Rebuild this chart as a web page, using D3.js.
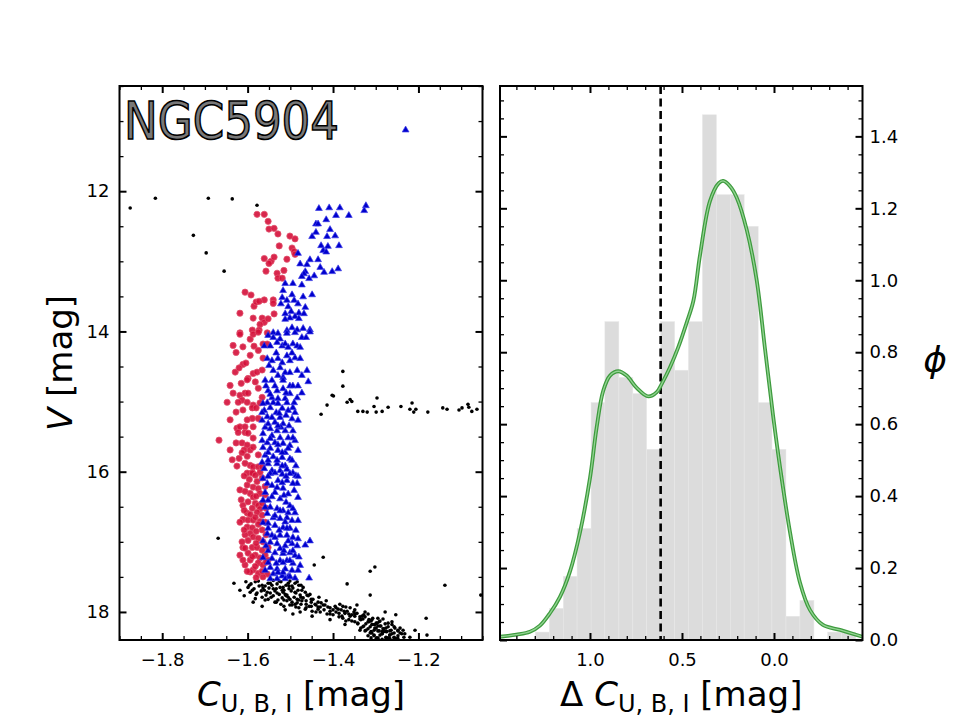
<!DOCTYPE html>
<html>
<head>
<meta charset="utf-8">
<script src="https://cdn.jsdelivr.net/npm/d3@7"></script>
<style>
  body { margin: 0; background: #fff; }
  svg { display: block; }
  .tick text { font-family: 'DejaVu Sans', sans-serif; font-size: 18px; fill: #000; }
  .tick line { stroke: #000; }
</style>
</head>
<body>
<script>
// ---- data ----
const clusterName = 'NGC5904';

// left panel: [C_UBI, V]
const redStars = [
  [-1.578,12.33],[-1.561,12.33],[-1.552,12.43],[-1.550,12.54],[-1.538,12.53],[-1.529,12.61],[-1.526,12.78],
  [-1.501,12.64],[-1.489,12.68],[-1.496,12.81],[-1.491,12.86],[-1.489,12.90],[-1.561,12.96],[-1.545,13.00],
  [-1.538,12.94],[-1.550,13.03],[-1.508,12.97],[-1.515,13.13],[-1.531,13.17],[-1.557,13.14],[-1.529,13.24],
  [-1.519,13.24],[-1.606,13.44],[-1.592,13.48],[-1.585,13.64],[-1.580,13.58],[-1.561,13.55],[-1.540,13.55],
  [-1.540,13.60],[-1.573,13.57],[-1.618,13.74],[-1.587,13.81],[-1.566,13.81],[-1.561,13.87],[-1.571,13.90],
  [-1.538,13.75],[-1.552,13.82],[-1.589,13.98],[-1.618,14.02],[-1.573,13.98],[-1.554,14.02],
  [-1.618,14.04],[-1.634,14.20],[-1.611,14.22],[-1.594,14.11],[-1.587,14.04],[-1.575,14.01],[-1.585,14.21],
  [-1.594,14.34],[-1.564,14.18],[-1.554,14.18],[-1.564,14.38],[-1.611,14.47],[-1.604,14.45],[-1.629,14.58],
  [-1.587,14.60],[-1.578,14.58],[-1.599,14.67],[-1.601,14.69],[-1.615,14.74],[-1.582,14.72],[-1.634,14.88],
  [-1.648,15.01],[-1.618,14.91],[-1.606,14.88],[-1.599,14.88],[-1.613,14.98],[-1.622,15.01],[-1.601,15.01],
  [-1.587,15.05],[-1.611,15.12],[-1.589,15.09],[-1.566,14.94],[-1.571,15.02],[-1.580,15.09],[-1.589,15.24],
  [-1.625,15.38],[-1.618,15.36],[-1.606,15.36],[-1.587,15.36],[-1.606,15.44],[-1.599,15.45],[-1.622,15.44],
  [-1.667,15.55],[-1.627,15.59],[-1.613,15.59],[-1.601,15.62],[-1.587,15.52],[-1.608,15.69],[-1.594,15.69],
  [-1.587,15.65],[-1.613,15.73],[-1.601,15.78],[-1.620,15.81],[-1.625,15.92],[-1.594,15.91],[-1.587,15.93],
  [-1.575,15.93],[-1.566,15.93],[-1.589,16.01],[-1.571,16.01],[-1.601,16.02],
  [-1.589,16.02],[-1.582,16.05],[-1.596,16.11],[-1.578,16.14],[-1.601,16.19],[-1.587,16.22],[-1.575,16.24],
  [-1.571,16.31],[-1.594,16.31],[-1.587,16.36],[-1.599,16.43],[-1.582,16.45],[-1.575,16.48],[-1.589,16.52],
  [-1.571,16.53],[-1.578,16.58],[-1.601,16.59],[-1.594,16.61],[-1.566,16.62],[-1.611,16.68],[-1.599,16.69],
  [-1.587,16.69],[-1.571,16.71],[-1.575,16.75],[-1.601,16.79],[-1.589,16.80],[-1.566,16.83],[-1.594,16.88],
  [-1.587,16.93],[-1.599,16.98],[-1.575,16.95],[-1.564,17.00],[-1.611,17.08],[-1.589,17.08],[-1.578,17.08],
  [-1.566,17.12],[-1.599,17.16],[-1.582,17.19],[-1.571,17.23],[-1.559,17.19],[-1.594,17.26],[-1.575,17.30],
  [-1.564,17.33],[-1.587,17.40],[-1.594,17.43],[-1.575,17.45],[-1.554,17.46],[-1.564,17.50],
  [-1.618,16.26],[-1.611,16.48],[-1.559,16.33],[-1.606,16.90],[-1.618,17.19],[-1.552,17.26],[-1.606,17.33],
  [-1.608,16.06],[-1.566,16.09],[-1.606,16.28],[-1.559,16.21],[-1.580,16.35],[-1.615,16.40],[-1.566,16.45],
  [-1.608,16.55],[-1.557,16.52],[-1.582,16.65],[-1.618,16.72],[-1.559,16.72],[-1.608,16.83],[-1.580,16.85],
  [-1.557,16.90],[-1.613,17.00],[-1.580,17.02],[-1.552,17.08],[-1.606,17.09],[-1.589,17.21],[-1.611,17.26],
  [-1.557,17.29],[-1.582,17.35],[-1.601,17.42],[-1.566,17.42],[-1.580,17.51],
  [-1.627,14.30],[-1.575,14.27],[-1.620,14.52],[-1.566,14.55],[-1.641,14.77],[-1.575,14.81],[-1.627,15.15],
  [-1.575,15.24],[-1.641,15.26],[-1.601,15.26],[-1.641,15.69],[-1.575,15.76],[-1.636,15.83],[-1.606,15.88]
];

const blueStars = [
  [-1.230,11.12],[-1.323,12.20],[-1.327,12.27],
  [-1.433,12.24],[-1.409,12.23],[-1.384,12.23],[-1.363,12.34],[-1.393,12.34],[-1.416,12.40],[-1.440,12.46],
  [-1.435,12.46],[-1.407,12.54],[-1.440,12.58],[-1.449,12.64],[-1.395,12.63],[-1.414,12.64],[-1.428,12.77],
  [-1.423,12.84],[-1.412,12.78],[-1.386,12.77],[-1.416,12.86],[-1.482,12.88],[-1.435,12.97],[-1.454,12.97],
  [-1.461,13.04],[-1.477,13.03],[-1.430,13.08],[-1.421,13.15],[-1.402,13.14],[-1.388,13.10],[-1.465,13.14],
  [-1.468,13.17],[-1.444,13.20],[-1.473,13.21],[-1.456,13.24],[-1.512,13.31],[-1.494,13.31],[-1.473,13.33],
  [-1.517,13.41],[-1.496,13.47],[-1.470,13.50],[-1.449,13.47],[-1.519,13.51],[-1.508,13.55],[-1.491,13.55],
  [-1.482,13.60],[-1.522,13.60],[-1.505,13.64],[-1.465,13.65],[-1.498,13.71],[-1.480,13.73],[-1.512,13.74],
  [-1.489,13.78],[-1.468,13.74],[-1.501,13.80],[-1.480,13.81],[-1.512,13.82],[-1.496,13.94],[-1.484,13.97],
  [-1.470,13.95],[-1.454,13.97],[-1.508,13.98],[-1.540,14.01],[-1.529,14.02],
  [-1.552,14.05],[-1.540,14.08],[-1.524,14.10],[-1.508,14.02],[-1.489,14.01],[-1.473,14.08],[-1.463,14.08],
  [-1.454,14.00],[-1.547,14.20],[-1.531,14.15],[-1.519,14.20],[-1.512,14.17],[-1.505,14.22],[-1.494,14.17],
  [-1.484,14.20],[-1.477,14.22],[-1.554,14.38],[-1.543,14.41],[-1.529,14.38],[-1.519,14.44],[-1.508,14.34],
  [-1.501,14.41],[-1.489,14.37],[-1.477,14.38],[-1.540,14.55],[-1.524,14.51],[-1.512,14.58],[-1.517,14.65],
  [-1.484,14.55],[-1.461,14.55],[-1.559,14.69],[-1.543,14.69],[-1.517,14.69],[-1.501,14.77],[-1.494,14.77],
  [-1.482,14.77],[-1.458,14.71],[-1.552,14.84],[-1.531,14.84],[-1.517,14.81],[-1.501,14.88],[-1.484,14.94],
  [-1.543,14.94],[-1.529,14.95],[-1.512,14.95],[-1.554,15.01],[-1.540,15.01],[-1.529,15.02],[-1.508,15.01],
  [-1.564,15.02],[-1.519,15.09],[-1.547,15.08],[-1.505,15.12],[-1.533,15.15],[-1.554,15.21],[-1.543,15.22],
  [-1.524,15.22],[-1.510,15.19],[-1.496,15.24],[-1.566,15.26],[-1.536,15.29],[-1.517,15.31],[-1.503,15.34],
  [-1.559,15.36],[-1.547,15.38],[-1.531,15.41],[-1.512,15.41],[-1.564,15.45],[-1.543,15.48],[-1.524,15.51],
  [-1.505,15.51],[-1.554,15.58],[-1.536,15.58],[-1.517,15.59],[-1.501,15.62],[-1.564,15.65],[-1.547,15.66],
  [-1.529,15.69],[-1.512,15.72],[-1.559,15.76],[-1.540,15.78],[-1.519,15.79],[-1.501,15.81],[-1.566,15.86],
  [-1.552,15.88],[-1.531,15.88],[-1.512,15.91],[-1.496,15.83],[-1.543,15.98],[-1.524,15.98],[-1.508,15.96],
  [-1.494,16.01],
  [-1.564,16.09],[-1.547,16.02],[-1.536,16.01],[-1.519,16.03],[-1.501,16.02],[-1.487,16.05],[-1.484,16.16],
  [-1.494,16.16],[-1.554,16.16],[-1.543,16.19],[-1.529,16.12],[-1.508,16.12],[-1.517,16.23],[-1.559,16.29],
  [-1.536,16.29],[-1.505,16.31],[-1.552,16.40],[-1.524,16.38],[-1.510,16.43],[-1.547,16.50],[-1.531,16.52],
  [-1.517,16.55],[-1.505,16.58],[-1.554,16.59],[-1.540,16.65],[-1.524,16.66],[-1.508,16.65],[-1.496,16.69],
  [-1.552,16.73],[-1.536,16.76],[-1.517,16.79],[-1.501,16.80],[-1.554,16.88],[-1.543,16.90],[-1.524,16.90],
  [-1.508,16.90],[-1.494,16.93],[-1.547,17.00],[-1.531,17.02],[-1.512,17.05],[-1.496,17.02],[-1.484,17.05],
  [-1.465,17.04],[-1.454,16.98],[-1.552,17.12],[-1.536,17.15],[-1.517,17.16],[-1.501,17.15],[-1.489,17.19],
  [-1.543,17.23],[-1.524,17.26],[-1.508,17.26],[-1.494,17.30],[-1.547,17.36],[-1.531,17.38],[-1.512,17.38],
  [-1.496,17.40],[-1.482,17.40],[-1.540,17.45],[-1.519,17.48],[-1.505,17.49],[-1.489,17.51],[-1.456,17.51],
  [-1.531,17.52],[-1.512,17.52],
  [-1.557,14.77],[-1.536,14.77],[-1.510,14.87],[-1.491,15.01],[-1.561,15.12],[-1.526,15.16],[-1.489,15.15],
  [-1.552,15.31],[-1.522,15.36],[-1.494,15.41],[-1.566,15.55],[-1.529,15.61],[-1.489,15.55],[-1.552,15.72],
  [-1.505,15.66],[-1.531,15.83],[-1.487,15.91],[-1.561,15.95],[-1.510,16.06],[-1.531,16.22],[-1.491,16.26],
  [-1.564,16.40],[-1.501,16.48],[-1.536,16.62],[-1.489,16.58],[-1.564,16.72],[-1.512,16.71],[-1.526,16.83],
  [-1.487,16.83],[-1.564,16.98],[-1.505,16.98],[-1.524,17.09],[-1.564,17.22],[-1.494,17.12],[-1.533,17.30],
  [-1.559,17.40],[-1.501,17.26],[-1.517,17.43],[-1.477,17.33],[-1.547,17.52],
  [-1.561,14.20],[-1.496,14.30],[-1.533,14.30],[-1.550,14.48],[-1.501,14.58],[-1.473,14.62],[-1.529,14.62],
  [-1.547,14.89],[-1.473,14.87],[-1.494,15.08],[-1.566,15.15],[-1.482,15.26],[-1.529,15.34],[-1.494,15.51],
  [-1.547,15.52],[-1.482,15.69],[-1.519,15.72],[-1.552,15.83],[-1.519,15.91],[-1.482,16.06],[-1.552,16.06],
  [-1.519,16.15],[-1.543,16.35],[-1.482,16.36],[-1.515,16.33],[-1.559,16.50],[-1.494,16.52],[-1.524,16.55],
  [-1.552,16.80],[-1.482,16.69],[-1.508,16.80],[-1.536,16.93],[-1.482,16.95],[-1.557,17.05],[-1.515,17.12],
  [-1.480,17.21],[-1.552,17.29],[-1.517,17.29],[-1.529,17.43],[-1.501,17.49]
];

const otherStars = [
  // field / AGB
  [-1.875,12.24],[-1.816,12.10],[-1.692,12.10],[-1.636,12.11],[-1.578,12.20],[-1.727,12.63],[-1.697,12.88],
  [-1.655,13.14],[-1.669,16.95],[-1.632,17.59],[-1.423,17.22],[-1.444,17.33],[-1.367,17.60],[-1.313,17.42],
  [-1.302,17.36],[-1.313,17.76],[-1.138,17.62],[-1.054,17.76],[-1.182,18.09],[-1.180,18.33],[-1.236,18.26],
  [-1.344,17.90],[-1.433,17.79],[-1.494,18.03],[-1.582,17.81],
  // horizontal branch
  [-1.377,14.57],[-1.377,14.78],[-1.402,14.91],[-1.399,14.92],[-1.414,15.05],[-1.428,15.18],[-1.367,15.01],
  [-1.360,14.97],[-1.356,15.00],[-1.342,15.14],[-1.330,15.14],[-1.320,15.15],[-1.297,14.95],[-1.304,15.07],
  [-1.299,15.15],[-1.285,15.14],[-1.271,15.08],[-1.241,15.07],[-1.215,15.02],[-1.220,15.11],[-1.206,15.11],
  [-1.211,15.15],[-1.178,15.15],[-1.143,15.09],[-1.133,15.11],[-1.105,15.12],[-1.098,15.09],[-1.084,15.04],
  [-1.082,15.08],[-1.075,15.14],[-1.063,15.11],
  // sub-giant branch and main sequence
  [-1.604,17.57],[-1.592,17.60],[-1.575,17.56],[-1.566,17.62],[-1.552,17.59],[-1.540,17.55],[-1.531,17.60],
  [-1.522,17.57],[-1.510,17.62],[-1.501,17.56],[-1.489,17.59],[-1.480,17.62],
  [-1.599,17.65],[-1.585,17.67],[-1.573,17.63],[-1.561,17.69],[-1.550,17.66],[-1.543,17.62],[-1.533,17.67],
  [-1.524,17.65],[-1.515,17.69],[-1.503,17.63],[-1.494,17.66],[-1.482,17.69],[-1.470,17.65],
  [-1.594,17.72],[-1.580,17.75],[-1.568,17.70],[-1.557,17.76],[-1.547,17.73],[-1.536,17.70],[-1.526,17.75],
  [-1.517,17.72],[-1.508,17.76],[-1.498,17.70],[-1.487,17.73],[-1.477,17.76],[-1.465,17.72],[-1.454,17.75],
  [-1.566,17.79],[-1.552,17.82],[-1.540,17.77],[-1.529,17.83],[-1.519,17.80],[-1.510,17.77],[-1.501,17.82],
  [-1.491,17.79],[-1.480,17.83],[-1.470,17.80],[-1.458,17.77],[-1.447,17.82],
  [-1.536,17.86],[-1.522,17.89],[-1.508,17.84],[-1.496,17.90],[-1.484,17.87],[-1.473,17.84],[-1.463,17.89],
  [-1.451,17.86],[-1.440,17.90],[-1.428,17.87],[-1.416,17.84],
  [-1.501,17.90],[-1.487,17.93],[-1.475,17.89],[-1.463,17.94],[-1.451,17.92],[-1.442,17.89],[-1.430,17.93],
  [-1.419,17.90],[-1.407,17.94],[-1.395,17.92],
  [-1.465,17.96],[-1.449,17.99],[-1.435,17.93],[-1.421,17.97],[-1.407,17.99],[-1.393,17.94],[-1.381,17.97],
  [-1.370,17.93],
  [-1.430,18.00],[-1.414,18.03],[-1.400,17.97],[-1.386,18.02],[-1.374,17.99],[-1.363,18.03],[-1.351,18.00],
  [-1.400,18.04],[-1.386,18.07],[-1.372,18.02],[-1.360,18.06],[-1.349,18.03],[-1.337,18.07],[-1.328,18.04],
  [-1.377,18.09],[-1.363,18.11],[-1.349,18.06],[-1.337,18.10],[-1.325,18.07],[-1.316,18.11],[-1.307,18.09],
  [-1.356,18.13],[-1.342,18.16],[-1.330,18.10],[-1.318,18.14],[-1.309,18.11],[-1.299,18.16],[-1.290,18.13],
  [-1.342,18.17],[-1.328,18.20],[-1.316,18.14],[-1.307,18.18],[-1.297,18.16],[-1.288,18.20],[-1.278,18.17],
  [-1.330,18.21],[-1.318,18.24],[-1.309,18.18],[-1.299,18.23],[-1.290,18.20],[-1.281,18.24],[-1.271,18.21],
  [-1.262,18.18],
  [-1.323,18.26],[-1.311,18.28],[-1.302,18.23],[-1.292,18.27],[-1.283,18.24],[-1.274,18.28],[-1.264,18.26],
  [-1.255,18.23],
  [-1.313,18.30],[-1.304,18.33],[-1.295,18.27],[-1.285,18.31],[-1.276,18.28],[-1.267,18.33],[-1.257,18.30],
  [-1.248,18.27],
  [-1.304,18.34],[-1.295,18.37],[-1.285,18.31],[-1.276,18.36],[-1.267,18.33],[-1.257,18.37],[-1.248,18.34],
  [-1.239,18.31],
  [-1.295,18.38],[-1.285,18.39],[-1.276,18.37],[-1.267,18.38],[-1.257,18.36],[-1.248,18.38],
  [-1.618,17.69],[-1.608,17.77],[-1.587,17.86],[-1.566,17.92],[-1.512,17.97],[-1.477,18.00],[-1.449,18.06],
  [-1.407,18.11],[-1.384,17.89],[-1.349,17.97],[-1.325,18.00],[-1.295,18.09],[-1.262,18.14],[-1.243,18.23],
  [-1.232,18.31],[-1.220,18.36],[-1.208,18.26],[-1.253,18.04],[-1.278,18.00],[-1.372,18.18],[-1.337,18.26],
  [-1.311,18.37],
  [-1.596,17.62],[-1.582,17.57],[-1.559,17.63],[-1.547,17.59],[-1.526,17.56],[-1.517,17.65],[-1.505,17.59],
  [-1.496,17.63],[-1.484,17.57],[-1.475,17.62],
  [-1.589,17.69],[-1.578,17.73],[-1.564,17.66],[-1.554,17.72],[-1.540,17.67],[-1.531,17.73],[-1.519,17.69],
  [-1.512,17.75],[-1.503,17.67],[-1.489,17.72],[-1.473,17.69],[-1.461,17.76],
  [-1.559,17.83],[-1.545,17.79],[-1.533,17.86],[-1.515,17.83],[-1.505,17.79],[-1.496,17.86],[-1.484,17.82],
  [-1.475,17.79],[-1.463,17.84],[-1.451,17.82],[-1.435,17.86],
  [-1.515,17.92],[-1.489,17.89],[-1.480,17.94],[-1.456,17.92],[-1.435,17.96],[-1.423,17.90],[-1.412,17.93],
  [-1.388,17.96],[-1.377,17.92],[-1.360,17.94],
  [-1.440,18.00],[-1.407,18.03],[-1.393,18.00],[-1.379,18.06],[-1.367,17.99],[-1.356,18.04],[-1.344,18.02],
  [-1.332,18.06],[-1.318,18.03],
  [-1.370,18.13],[-1.349,18.14],[-1.335,18.11],[-1.323,18.17],[-1.311,18.13],[-1.302,18.18],[-1.292,18.14],
  [-1.283,18.10],[-1.271,18.16],
  [-1.335,18.23],[-1.325,18.27],[-1.313,18.21],[-1.304,18.26],[-1.295,18.20],[-1.285,18.28],[-1.276,18.23],
  [-1.267,18.27],[-1.257,18.21],[-1.248,18.26],
  [-1.318,18.34],[-1.309,18.30],[-1.299,18.38],[-1.290,18.33],[-1.281,18.28],[-1.271,18.37],[-1.262,18.31],
  [-1.253,18.38],[-1.243,18.30],[-1.234,18.36]
];

// right panel: histogram of delta C_UBI (bin edges and density)
const histEdges = [1.297, 1.221, 1.145, 1.070, 0.994, 0.919, 0.843, 0.767, 0.692, 0.616, 0.540, 0.465,
  0.389, 0.313, 0.238, 0.162, 0.086, 0.011, -0.065, -0.141, -0.217, -0.292, -0.368, -0.444];
const histDensity = [0.022, 0.088, 0.177, 0.31, 0.66, 0.885, 0.73, 0.685, 0.53, 0.885, 0.75, 0.885,
  1.46, 1.238, 1.238, 1.15, 0.66, 0.53, 0.066, 0.11, 0, 0.022, 0.022];

// kernel density curve [delta C, phi]
const kdeCurve = [
  [1.489,0.009],[1.40,0.015],[1.326,0.023],[1.272,0.040],[1.217,0.075],[1.163,0.120],[1.109,0.190],
  [1.054,0.300],[1.000,0.450],[0.964,0.590],[0.928,0.693],[0.891,0.735],[0.846,0.747],[0.801,0.735],
  [0.746,0.701],[0.683,0.677],[0.637,0.689],[0.610,0.712],[0.565,0.758],[0.520,0.814],[0.474,0.883],
  [0.438,0.943],[0.402,1.070],[0.348,1.220],[0.300,1.270],[0.276,1.276],[0.240,1.262],[0.203,1.230],
  [0.148,1.140],[0.094,1.000],[0.049,0.810],[0.004,0.620],[-0.033,0.480],[-0.087,0.300],[-0.141,0.160],
  [-0.196,0.083],[-0.266,0.042],[-0.359,0.028],[-0.449,0.014],[-0.481,0.009]
];
const splitValue = 0.616;

// ticks
const leftXTicks = [-1.8, -1.6, -1.4, -1.2];
const leftYTicks = [12, 14, 16, 18];
const rightXTicks = [1.0, 0.5, 0.0];
const rightYTicks = [0.0, 0.2, 0.4, 0.6, 0.8, 1.0, 1.2, 1.4];

// ---- layout ----
const WIDTH = 960;
const HEIGHT = 720;
const TOP = 86, BOTTOM = 640;
const LEFT_PANEL = { x0: 119.5, x1: 482.5 };
const RIGHT_PANEL = { x0: 500, x1: 862.5 };
const MAJOR = 7, MINOR = 4;

const svg = d3.select('body').append('svg')
  .attr('width', WIDTH)
  .attr('height', HEIGHT);

svg.append('rect').attr('width', WIDTH).attr('height', HEIGHT).attr('fill', '#fff');

const xL = d3.scaleLinear().domain([-1.9, -1.05]).range([LEFT_PANEL.x0, LEFT_PANEL.x1]);
const yL = d3.scaleLinear().domain([10.5, 18.4]).range([TOP, BOTTOM]);
const xR = d3.scaleLinear().domain([1.489, -0.481]).range([RIGHT_PANEL.x0, RIGHT_PANEL.x1]);
const yR = d3.scaleLinear().domain([0, 1.54]).range([BOTTOM, TOP]);

const near = (a, list) => list.some(b => Math.abs(a - b) < 1e-6);
function minors(lo, hi, step, majors) {
  return d3.range(Math.ceil(lo / step - 1e-6), Math.floor(hi / step + 1e-6) + 1)
    .map(k => +(k * step).toFixed(4))
    .filter(v => !near(v, majors));
}

const defs = svg.append('defs');
defs.append('clipPath').attr('id', 'clipL')
  .append('rect')
    .attr('x', LEFT_PANEL.x0).attr('y', TOP)
    .attr('width', LEFT_PANEL.x1 - LEFT_PANEL.x0).attr('height', BOTTOM - TOP);
defs.append('clipPath').attr('id', 'clipR')
  .append('rect')
    .attr('x', RIGHT_PANEL.x0).attr('y', TOP)
    .attr('width', RIGHT_PANEL.x1 - RIGHT_PANEL.x0).attr('height', BOTTOM - TOP);

// ---- left panel: CMD ----
const cmd = svg.append('g').attr('clip-path', 'url(#clipL)');

cmd.append('g').selectAll('circle')
  .data(otherStars)
  .join('circle')
    .attr('cx', d => xL(d[0]))
    .attr('cy', d => yL(d[1]))
    .attr('r', 1.8)
    .attr('fill', '#000');

cmd.append('g').selectAll('circle')
  .data(redStars)
  .join('circle')
    .attr('cx', d => xL(d[0]))
    .attr('cy', d => yL(d[1]))
    .attr('r', 3.1)
    .attr('fill', '#d4103a')
    .attr('fill-opacity', 0.9)
    .attr('stroke', '#e2506c')
    .attr('stroke-width', 0.8);

const tri = d3.symbol().type(d3.symbolTriangle).size(20);
cmd.append('g').selectAll('path')
  .data(blueStars)
  .join('path')
    .attr('d', tri)
    .attr('transform', d => `translate(${xL(d[0])},${yL(d[1]) + 0.5})`)
    .attr('fill', '#0000cd')
    .attr('stroke', '#3d3de6')
    .attr('stroke-width', 0.7);

// cluster name
svg.append('text')
  .attr('x', 124)
  .attr('y', 139)
  .attr('font-family', 'DejaVu Sans, sans-serif')
  .attr('font-size', 51)
  .attr('textLength', 215)
  .attr('lengthAdjust', 'spacingAndGlyphs')
  .attr('fill', '#787878')
  .attr('stroke', '#000')
  .attr('stroke-width', 1.6);

svg.select('text:last-of-type').text(clusterName);

// ---- right panel: histogram + kde ----
const hist = svg.append('g').attr('clip-path', 'url(#clipR)');
const bins = histDensity.map((h, i) => ({ a: histEdges[i], b: histEdges[i + 1], h }));

hist.append('g').selectAll('rect')
  .data(bins.filter(d => d.h > 0))
  .join('rect')
    .attr('x', d => xR(d.a))
    .attr('y', d => yR(d.h))
    .attr('width', d => xR(d.b) - xR(d.a))
    .attr('height', d => yR(0) - yR(d.h))
    .attr('fill', '#dcdcdc')
    .attr('stroke', '#e8e8e8')
    .attr('stroke-width', 0.5);

hist.append('line')
  .attr('x1', xR(splitValue)).attr('x2', xR(splitValue))
  .attr('y1', TOP).attr('y2', BOTTOM)
  .attr('stroke', '#000')
  .attr('stroke-width', 2.6)
  .attr('stroke-dasharray', '8,4.5');

const kdeLine = d3.line()
  .x(d => xR(d[0]))
  .y(d => yR(d[1]))
  .curve(d3.curveCatmullRom);

hist.append('path')
  .attr('d', kdeLine(kdeCurve))
  .attr('fill', 'none')
  .attr('stroke', '#3e9b3e')
  .attr('stroke-width', 3.8);
hist.append('path')
  .attr('d', kdeLine(kdeCurve))
  .attr('fill', 'none')
  .attr('stroke', '#93d493')
  .attr('stroke-width', 1.3);

// ---- axes ----
function drawAxis(axisFn, scale, where, majors, minorVals, fmt, padding, labels) {
  const g = svg.append('g').attr('transform', where);
  g.call(axisFn(scale).tickValues(majors).tickSizeInner(-MAJOR).tickSizeOuter(0)
    .tickPadding(padding).tickFormat(labels ? fmt : ''));
  const m = svg.append('g').attr('transform', where);
  m.call(axisFn(scale).tickValues(minorVals).tickSizeInner(-MINOR).tickSizeOuter(0).tickFormat(''));
  g.select('.domain').remove();
  m.select('.domain').remove();
  g.selectAll('.tick line').attr('stroke-width', 2);
  m.selectAll('.tick line').attr('stroke-width', 1.3);
}

const f1 = d3.format('.1f');
const f0 = d3.format('d');

const lxMin = minors(-1.9, -1.05, 0.05, leftXTicks);
const lyMin = minors(10.5, 18.4, 0.5, leftYTicks);
const rxMin = minors(-0.48, 1.48, 0.1, rightXTicks);
const ryMin = minors(0, 1.54, 0.05, rightYTicks);

drawAxis(d3.axisBottom, xL, `translate(0,${BOTTOM})`, leftXTicks, lxMin, f1, 13, true);
drawAxis(d3.axisTop, xL, `translate(0,${TOP})`, leftXTicks, lxMin, f1, 0, false);
drawAxis(d3.axisLeft, yL, `translate(${LEFT_PANEL.x0},0)`, leftYTicks, lyMin, f0, 10, true);
drawAxis(d3.axisRight, yL, `translate(${LEFT_PANEL.x1},0)`, leftYTicks, lyMin, f0, 0, false);

drawAxis(d3.axisBottom, xR, `translate(0,${BOTTOM})`, rightXTicks, rxMin, f1, 13, true);
drawAxis(d3.axisTop, xR, `translate(0,${TOP})`, rightXTicks, rxMin, f1, 0, false);
drawAxis(d3.axisLeft, yR, `translate(${RIGHT_PANEL.x0},0)`, rightYTicks, ryMin, f1, 0, false);
drawAxis(d3.axisRight, yR, `translate(${RIGHT_PANEL.x1},0)`, rightYTicks, ryMin, f1, 7, true);

// frames
[LEFT_PANEL, RIGHT_PANEL].forEach(p => {
  svg.append('rect')
    .attr('x', p.x0).attr('y', TOP)
    .attr('width', p.x1 - p.x0).attr('height', BOTTOM - TOP)
    .attr('fill', 'none')
    .attr('stroke', '#000')
    .attr('stroke-width', 2);
});

// ---- axis labels ----
const LABEL_FONT = 'DejaVu Sans, sans-serif';
const LABEL_SIZE = 34;

function cubiLabel(x, y, prefix) {
  const t = svg.append('text')
    .attr('x', x).attr('y', y)
    .attr('text-anchor', 'middle')
    .attr('font-family', LABEL_FONT)
    .attr('font-size', LABEL_SIZE)
    .attr('fill', '#000');
  if (prefix) t.append('tspan').text(prefix + ' ');
  t.append('tspan').attr('font-style', 'italic').text('C');
  t.append('tspan').attr('font-size', 24).attr('dy', 6).text('U, B, I');
  t.append('tspan').attr('dy', -6).text(' [mag]');
}

cubiLabel((LEFT_PANEL.x0 + LEFT_PANEL.x1) / 2, 706, null);
cubiLabel((RIGHT_PANEL.x0 + RIGHT_PANEL.x1) / 2, 706, 'Δ');

const vLab = svg.append('text')
  .attr('transform', `translate(72,${(TOP + BOTTOM) / 2}) rotate(-90)`)
  .attr('text-anchor', 'middle')
  .attr('font-family', LABEL_FONT)
  .attr('font-size', LABEL_SIZE)
  .attr('fill', '#000');
vLab.append('tspan').attr('font-style', 'italic').text('V');
vLab.append('tspan').text(' [mag]');

svg.append('text')
  .attr('x', 935)
  .attr('y', 372)
  .attr('text-anchor', 'middle')
  .attr('font-family', LABEL_FONT)
  .attr('font-style', 'italic')
  .attr('font-size', 36)
  .attr('fill', '#000')
  .text('ϕ');
</script>
</body>
</html>
